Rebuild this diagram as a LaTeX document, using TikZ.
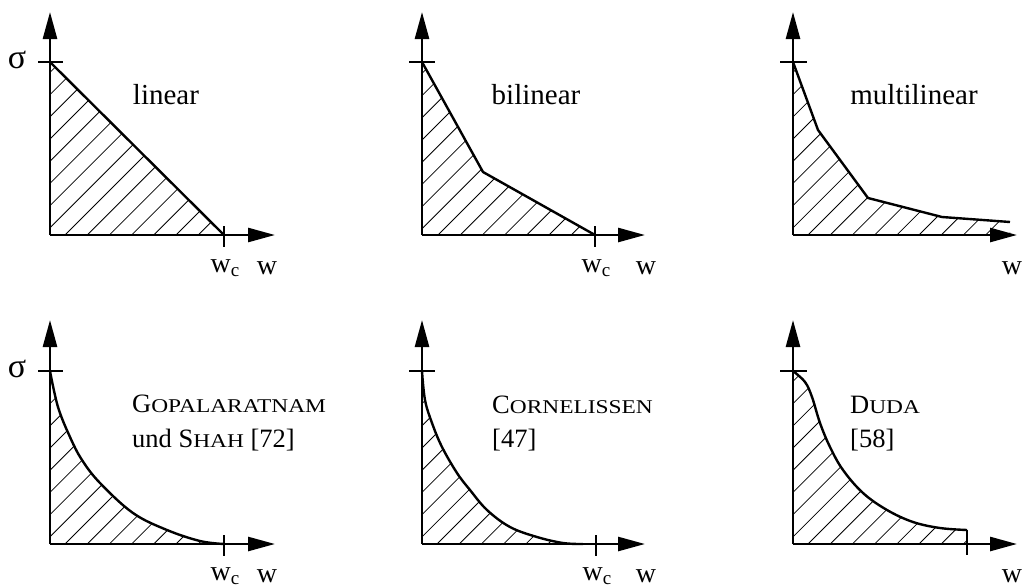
\documentclass[tikz,border=0pt]{standalone}
\usepackage{fontspec}
\setmainfont{Liberation Serif}
\newfontfamily\scf[FakeStretch=1.2]{Liberation Serif}
\usetikzlibrary{arrows.meta}
\newcommand{\smc}[1]{{\scf\fontsize{19.5}{19.5}\selectfont #1}}
\newcommand{\wcl}{w\raisebox{-0.35ex}{\fontsize{19}{19}\selectfont c}}
\tikzset{
  axis/.style={line width=2.6pt, -{Triangle[length=27pt,width=14pt]}},
  curve/.style={line width=2.4pt, line join=round},
  tickline/.style={line width=1.1pt},
  hatchline/.style={line width=0.8pt},
  toplab/.style={inner sep=0pt, font=\fontsize{29}{33}\selectfont},
  botlab/.style={inner sep=0pt, anchor=base west, font=\fontsize{26.5}{30}\selectfont},
  axlab/.style={inner sep=0pt, font=\fontsize{28}{30}\selectfont},
  siglab/.style={inner sep=0pt, font=\fontsize{34}{36}\selectfont},
}
\newcommand{\hatchfrom}[2]{% #1 = phase constant, #2 count
  \foreach \k in {-12,...,#2} {
    \pgfmathsetmacro{\c}{#1+22.2*\k}
    \draw[hatchline] (\c,0) -- ({\c-600},600);
  }}
\begin{document}
\begin{tikzpicture}[x=1pt,y=-1pt]
\useasboundingbox (0,0) rectangle (1022,587);

% ---------- Panel 1: linear ----------
\begin{scope}
  \clip (50,235) -- (50,62) -- (224,235) -- cycle;
  \hatchfrom{300}{14}
\end{scope}
\draw[curve] (50,62) -- (224,235);
\draw[axis] (50,235) -- (50,12);
\draw[axis] (50,235) -- (275,235);
\draw[tickline] (38,62) -- (63,62);
\draw[tickline] (224,226) -- (224,247);
\node[siglab] (s1) at (17,60) {σ};
\node[toplab, anchor=base] (t1) at (166,104) {linear};
\node[axlab] (wc1) at (225,268) {\wcl};
\node[axlab] (w1) at (267,268) {w};

% ---------- Panel 2: bilinear ----------
\begin{scope}
  \clip (422,235) -- (422,62) -- (483,172) -- (595,235) -- cycle;
  \hatchfrom{673}{14}
\end{scope}
\draw[curve] (422,62) -- (483,172) -- (595,235);
\draw[axis] (422,235) -- (422,12);
\draw[axis] (422,235) -- (645,235);
\draw[tickline] (409,62) -- (435,62);
\draw[tickline] (595,226) -- (595,247);
\node[toplab, anchor=base] (t2) at (536,104) {bilinear};
\node[axlab] (wc2) at (596,268) {\wcl};
\node[axlab] (w2) at (646,268) {w};

% ---------- Panel 3: multilinear ----------
\begin{scope}
  \clip (793,235) -- (793,62) -- (818,130) -- (868,198) -- (942,217) -- (1010,222) -- (1010,235) -- cycle;
  \hatchfrom{1043}{16}
\end{scope}
\draw[curve] (793,62) -- (818,130) -- (868,198) -- (942,217) -- (1010,222);
\draw[axis] (793,235) -- (793,12);
\draw[axis] (793,235) -- (1017,235);
\draw[tickline] (780,62) -- (807,62);
\node[toplab, anchor=base] (t3) at (914,104) {multilinear};
\node[axlab] (w3) at (1012,268) {w};

% ---------- Panel 4: Gopalaratnam und Shah ----------
\begin{scope}
  \clip (50,544) -- plot[smooth, tension=0.6] coordinates {(50,371) (58,407) (70,437) (82,460) (100,483) (133,513) (167,530) (200,541) (224,544)} -- cycle;
  \hatchfrom{609}{14}
\end{scope}
\draw[curve] plot[smooth, tension=0.6] coordinates {(50,371) (58,407) (70,437) (82,460) (100,483) (133,513) (167,530) (200,541) (224,544)};
\draw[axis] (50,544) -- (50,320);
\draw[axis] (50,544) -- (275,544);
\draw[tickline] (38,371) -- (63,371);
\draw[tickline] (224,535) -- (224,556);
\node[siglab] (s4) at (17,369) {σ};
\node[botlab] (t4a) at (132,412) {G\smc{OPALARATNAM}};
\node[botlab] (t4b) at (132,447) {und S\smc{HAH} [72]};
\node[axlab] (wc4) at (225,576) {\wcl};
\node[axlab] (w4) at (267,576) {w};

% ---------- Panel 5: Cornelissen ----------
\begin{scope}
  \clip (422,544) -- plot[smooth, tension=0.6] coordinates {(422,371) (425,400) (432,423) (442,447) (457,473) (470,490) (487,510) (510,527) (537,537) (563,543) (583,544)} -- cycle;
  \hatchfrom{981}{14}
\end{scope}
\draw[curve] plot[smooth, tension=0.6] coordinates {(422,371) (425,400) (432,423) (442,447) (457,473) (470,490) (487,510) (510,527) (537,537) (563,543) (583,544)};
\draw[axis] (422,544) -- (422,320);
\draw[axis] (422,544) -- (645,544);
\draw[tickline] (409,371) -- (435,371);
\draw[tickline] (596,535) -- (596,556);
\node[botlab] (t5a) at (492,413) {C\smc{ORNELISSEN}};
\node[botlab] (t5b) at (492,447) {[47]};
\node[axlab] (wc5) at (597,576) {\wcl};
\node[axlab] (w5) at (646,576) {w};

% ---------- Panel 6: Duda ----------
\begin{scope}
  \clip (793,544) -- plot[smooth, tension=0.6] coordinates {(793,371) (805,382) (812,397) (820,423) (830,447) (843,470) (863,493) (887,510) (913,522) (940,528) (967,530)} -- (967,544) -- cycle;
  \hatchfrom{1352}{16}
\end{scope}
\draw[curve] plot[smooth, tension=0.6] coordinates {(793,371) (805,382) (812,397) (820,423) (830,447) (843,470) (863,493) (887,510) (913,522) (940,528) (967,530)};
\draw[axis] (793,544) -- (793,320);
\draw[axis] (793,544) -- (1017,544);
\draw[tickline] (780,371) -- (807,371);
\draw[tickline] (967,530) -- (967,555);
\node[botlab] (t6a) at (850,413) {D\smc{UDA}};
\node[botlab] (t6b) at (850,447) {[58]};
\node[axlab] (w6) at (1012,576) {w};
\end{tikzpicture}
\end{document}
